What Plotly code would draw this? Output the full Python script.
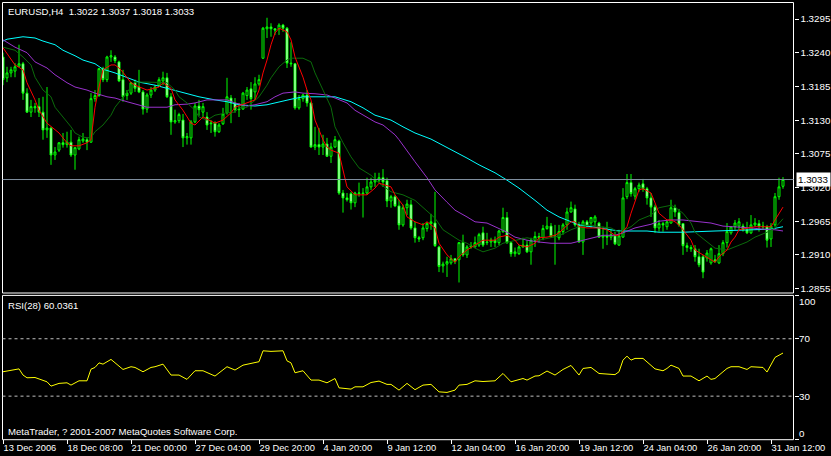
import plotly.graph_objects as go

# ---------------- data ----------------
symbol_header = "EURUSD,H4  1.3022 1.3037 1.3018 1.3033"
rsi_header = "RSI(28) 60.0361"
footer = "MetaTrader, ? 2001-2007 MetaQuotes Software Corp."
last_price = 1.3033

opens = [1.3233,1.3199,1.3207,1.3210,1.3218,1.3222,1.3174,1.3143,1.3152,1.3152,
         1.3143,1.3114,1.3117,1.3073,1.3081,1.3093,1.3090,1.3094,1.3073,1.3083,
         1.3096,1.3098,1.3094,1.3165,1.3170,1.3214,1.3196,1.3233,1.3233,1.3225,
         1.3196,1.3170,1.3174,1.3191,1.3184,1.3176,1.3148,1.3171,1.3179,1.3186,
         1.3194,1.3199,1.3168,1.3127,1.3129,1.3130,1.3101,1.3101,1.3127,1.3153,
         1.3143,1.3135,1.3124,1.3125,1.3111,1.3124,1.3142,1.3166,1.3158,1.3147,
         1.3148,1.3170,1.3181,1.3176,1.3189,1.3231,1.3279,1.3282,1.3279,1.3279,
         1.3285,1.3280,1.3223,1.3222,1.3150,1.3165,1.3171,1.3158,1.3086,1.3090,
         1.3086,1.3091,1.3071,1.3086,1.3096,1.3011,1.3003,1.3010,1.2995,1.3010,
         1.3011,1.3011,1.3021,1.3029,1.3032,1.3036,1.3031,1.2998,1.3005,1.2990,
         1.2959,1.2987,1.2992,1.2954,1.2938,1.2938,1.2953,1.2961,1.2962,1.2923,
         1.2892,1.2895,1.2897,1.2904,1.2902,1.2930,1.2910,1.2923,1.2923,1.2926,
         1.2946,1.2930,1.2931,1.2934,1.2930,1.2948,1.2971,1.2930,1.2912,1.2912,
         1.2923,1.2926,1.2915,1.2934,1.2940,1.2938,1.2953,1.2957,1.2940,1.2938,
         1.2948,1.2959,1.2980,1.2985,1.2959,1.2931,1.2964,1.2962,1.2964,1.2962,
         1.2939,1.2941,1.2939,1.2941,1.2926,1.2939,1.3005,1.3028,1.3006,1.3018,
         1.3026,1.3018,1.3003,1.2988,1.2954,1.2961,1.2956,1.2962,1.2987,1.2979,
         1.2961,1.2925,1.2922,1.2920,1.2907,1.2907,1.2905,1.2897,1.2902,1.2897,
         1.2912,1.2930,1.2946,1.2956,1.2957,1.2957,1.2951,1.2946,1.2959,1.2961,
         1.2957,1.2956,1.2936,1.2959,1.3005,1.3022]
highs = [1.3240,1.3217,1.3217,1.3223,1.3253,1.3225,1.3182,1.3163,1.3158,1.3166,
         1.3168,1.3184,1.3119,1.3086,1.3094,1.3109,1.3111,1.3114,1.3086,1.3103,
         1.3109,1.3101,1.3174,1.3179,1.3215,1.3217,1.3235,1.3244,1.3236,1.3227,
         1.3212,1.3179,1.3192,1.3196,1.3212,1.3179,1.3174,1.3184,1.3187,1.3200,
         1.3209,1.3207,1.3174,1.3147,1.3142,1.3140,1.3109,1.3130,1.3158,1.3163,
         1.3158,1.3143,1.3130,1.3128,1.3125,1.3150,1.3199,1.3171,1.3166,1.3158,
         1.3176,1.3184,1.3192,1.3200,1.3204,1.3282,1.3297,1.3288,1.3279,1.3288,
         1.3287,1.3282,1.3257,1.3223,1.3171,1.3173,1.3179,1.3160,1.3119,1.3117,
         1.3106,1.3101,1.3093,1.3104,1.3098,1.3016,1.3011,1.3013,1.3013,1.3028,
         1.3019,1.3036,1.3036,1.3044,1.3044,1.3050,1.3036,1.3008,1.3008,1.3000,
         1.2992,1.3000,1.3000,1.2964,1.2941,1.2962,1.2964,1.2977,1.3013,1.2925,
         1.2899,1.2907,1.2910,1.2905,1.2931,1.2943,1.2926,1.2931,1.2940,1.2946,
         1.2956,1.2946,1.2938,1.2940,1.2951,1.2987,1.2980,1.2931,1.2922,1.2926,
         1.2938,1.2934,1.2938,1.2948,1.2946,1.2959,1.2972,1.2962,1.2959,1.2959,
         1.2962,1.2987,1.2997,1.2992,1.2964,1.2967,1.2967,1.2972,1.2975,1.2964,
         1.2956,1.2964,1.2951,1.2948,1.2951,1.3019,1.3042,1.3042,1.3021,1.3028,
         1.3034,1.3021,1.3011,1.2992,1.2967,1.2964,1.2966,1.3000,1.2992,1.2985,
         1.2962,1.2930,1.2926,1.2926,1.2920,1.2910,1.2918,1.2922,1.2910,1.2926,
         1.2934,1.2962,1.2957,1.2967,1.2970,1.2961,1.2964,1.2975,1.2970,1.2967,
         1.2964,1.2959,1.2962,1.3011,1.3036,1.3037]
lows = [1.3187,1.3192,1.3200,1.3200,1.3217,1.3163,1.3142,1.3135,1.3142,1.3135,
        1.3098,1.3101,1.3057,1.3065,1.3078,1.3085,1.3085,1.3070,1.3049,1.3081,
        1.3093,1.3081,1.3093,1.3160,1.3168,1.3192,1.3192,1.3225,1.3223,1.3192,
        1.3160,1.3163,1.3171,1.3176,1.3174,1.3139,1.3142,1.3166,1.3176,1.3184,
        1.3187,1.3166,1.3106,1.3124,1.3125,1.3086,1.3090,1.3090,1.3125,1.3137,
        1.3135,1.3114,1.3109,1.3103,1.3109,1.3122,1.3139,1.3125,1.3142,1.3135,
        1.3147,1.3163,1.3147,1.3163,1.3186,1.3230,1.3264,1.3266,1.3269,1.3269,
        1.3274,1.3215,1.3217,1.3147,1.3147,1.3160,1.3152,1.3085,1.3081,1.3073,
        1.3073,1.3070,1.3060,1.3085,1.3008,1.2979,1.2997,1.2984,1.2988,1.3005,
        1.2971,1.3008,1.3016,1.3021,1.3028,1.3021,1.2988,1.2987,1.2988,1.2951,
        1.2956,1.2975,1.2951,1.2930,1.2931,1.2934,1.2948,1.2951,1.2923,1.2882,
        1.2881,1.2874,1.2894,1.2895,1.2865,1.2907,1.2905,1.2920,1.2922,1.2923,
        1.2923,1.2926,1.2923,1.2923,1.2926,1.2946,1.2928,1.2907,1.2907,1.2910,
        1.2922,1.2913,1.2894,1.2923,1.2930,1.2934,1.2951,1.2938,1.2894,1.2934,
        1.2943,1.2951,1.2979,1.2956,1.2930,1.2910,1.2956,1.2954,1.2956,1.2938,
        1.2920,1.2926,1.2934,1.2926,1.2925,1.2938,1.3001,1.3005,1.3000,1.3013,
        1.3013,1.2992,1.2972,1.2946,1.2948,1.2948,1.2951,1.2961,1.2972,1.2956,
        1.2910,1.2915,1.2915,1.2899,1.2890,1.2872,1.2899,1.2894,1.2897,1.2895,
        1.2908,1.2922,1.2943,1.2951,1.2951,1.2948,1.2944,1.2944,1.2956,1.2948,
        1.2951,1.2922,1.2923,1.2956,1.3000,1.3018]
closes = [1.3196,1.3207,1.3212,1.3217,1.3222,1.3174,1.3143,1.3152,1.3150,1.3143,
          1.3114,1.3117,1.3073,1.3078,1.3093,1.3090,1.3094,1.3073,1.3085,1.3098,
          1.3099,1.3094,1.3165,1.3170,1.3214,1.3196,1.3233,1.3235,1.3227,1.3194,
          1.3168,1.3174,1.3191,1.3182,1.3176,1.3148,1.3171,1.3179,1.3184,1.3196,
          1.3199,1.3168,1.3127,1.3129,1.3139,1.3101,1.3103,1.3127,1.3153,1.3147,
          1.3152,1.3122,1.3125,1.3111,1.3122,1.3140,1.3168,1.3158,1.3147,1.3148,
          1.3174,1.3179,1.3165,1.3189,1.3196,1.3280,1.3282,1.3279,1.3277,1.3285,
          1.3280,1.3223,1.3222,1.3150,1.3165,1.3171,1.3158,1.3086,1.3090,1.3086,
          1.3091,1.3071,1.3086,1.3098,1.3011,1.3003,1.3000,1.2995,1.3011,1.3011,
          1.3010,1.3021,1.3029,1.3032,1.3036,1.3029,1.2998,1.3005,1.2990,1.2959,
          1.2987,1.2993,1.2954,1.2938,1.2936,1.2954,1.2961,1.2964,1.2925,1.2891,
          1.2895,1.2899,1.2904,1.2899,1.2930,1.2910,1.2923,1.2925,1.2930,1.2943,
          1.2926,1.2931,1.2934,1.2930,1.2949,1.2971,1.2930,1.2912,1.2915,1.2923,
          1.2926,1.2915,1.2934,1.2940,1.2938,1.2953,1.2957,1.2940,1.2941,1.2948,
          1.2959,1.2980,1.2987,1.2959,1.2931,1.2964,1.2957,1.2971,1.2972,1.2939,
          1.2941,1.2939,1.2943,1.2928,1.2941,1.3003,1.3028,1.3010,1.3018,1.3024,
          1.3018,1.3003,1.2988,1.2954,1.2961,1.2959,1.2964,1.2987,1.2980,1.2959,
          1.2925,1.2922,1.2920,1.2907,1.2894,1.2882,1.2913,1.2920,1.2899,1.2912,
          1.2930,1.2948,1.2956,1.2962,1.2964,1.2951,1.2946,1.2959,1.2962,1.2957,
          1.2956,1.2934,1.2957,1.3005,1.3021,1.3033]
bars = list(range(len(closes)))

# moving averages (bar index, price)
red_bars = [0,3,5,6,8,9,11,13,14,16,17,19,21,22,23,24,25,27,28,29,30,32,33,36,39,40,42,43,45,47,48,50,53,55,57,58,63,64,65,66,67,68,69,71,72,73,75,76,77,78,80,81,82,84,85,86,88,91,93,94,97,98,100,101,103,105,106,108,109,111,113,114,116,118,120,123,124,126,128,129,131,133,134,136,138,139,142,143,144,146,149,151,153,154,156,157,158,159,160,162,163,164,166,167,168,169,170,172,173,175,177,178,179,181,182,183,184,186,188,191,192,193,194,195]
red_vals = [1.3248,1.3220,1.3212,1.3191,1.3163,1.3146,1.3125,1.3114,1.3109,1.3093,1.3088,1.3088,1.3093,1.3098,1.3151,1.3184,1.3212,1.3220,1.3220,1.3215,1.3208,1.3191,1.3187,1.3179,1.3184,1.3191,1.3182,1.3163,1.3146,1.3125,1.3122,1.3135,1.3125,1.3130,1.3142,1.3151,1.3163,1.3179,1.3207,1.3228,1.3253,1.3272,1.3280,1.3274,1.3261,1.3233,1.3200,1.3179,1.3163,1.3130,1.3098,1.3086,1.3081,1.3076,1.3049,1.3021,1.3008,1.3008,1.3019,1.3027,1.3021,1.3008,1.2991,1.2972,1.2964,1.2959,1.2964,1.2954,1.2929,1.2910,1.2898,1.2907,1.2918,1.2926,1.2934,1.2934,1.2939,1.2942,1.2934,1.2926,1.2923,1.2929,1.2938,1.2939,1.2942,1.2946,1.2964,1.2964,1.2956,1.2954,1.2954,1.2951,1.2942,1.2942,1.2956,1.2978,1.2999,1.3016,1.3018,1.3011,1.2995,1.2978,1.2967,1.2967,1.2964,1.2959,1.2951,1.2934,1.2918,1.2910,1.2902,1.2898,1.2907,1.2918,1.2931,1.2939,1.2951,1.2954,1.2956,1.2956,1.2956,1.2967,1.2978,1.2988]

green_bars = [0,3,5,7,8,10,12,13,15,17,18,20,22,23,25,27,28,30,32,33,36,38,41,43,44,46,48,49,51,53,56,58,59,61,63,64,66,67,69,71,72,75,77,78,80,82,83,85,87,89,92,94,97,100,103,105,108,110,113,114,116,118,120,123,125,128,131,134,137,139,142,144,147,149,152,154,157,159,162,164,167,168,170,172,173,176,178,181,183,186,188,191,193,194,195]
green_vals = [1.3249,1.3244,1.3233,1.3220,1.3200,1.3179,1.3168,1.3151,1.3135,1.3119,1.3109,1.3102,1.3101,1.3111,1.3122,1.3138,1.3151,1.3168,1.3184,1.3192,1.3192,1.3192,1.3191,1.3179,1.3168,1.3158,1.3146,1.3135,1.3130,1.3138,1.3142,1.3143,1.3150,1.3151,1.3163,1.3168,1.3187,1.3199,1.3217,1.3228,1.3231,1.3231,1.3225,1.3207,1.3179,1.3151,1.3119,1.3093,1.3070,1.3052,1.3040,1.3027,1.3013,1.3008,1.2999,1.2987,1.2970,1.2951,1.2939,1.2934,1.2929,1.2921,1.2915,1.2921,1.2929,1.2934,1.2938,1.2934,1.2938,1.2941,1.2951,1.2956,1.2959,1.2956,1.2954,1.2947,1.2956,1.2967,1.2975,1.2987,1.2991,1.2988,1.2978,1.2962,1.2947,1.2931,1.2921,1.2918,1.2923,1.2931,1.2939,1.2947,1.2954,1.2962,1.2969]

purple_bars = [0,3,6,8,11,13,16,18,21,23,26,28,31,33,36,41,43,46,48,51,56,58,61,63,66,68,70,73,75,78,81,83,86,88,91,93,95,98,99,101,103,106,108,111,113,116,118,121,123,126,128,131,134,137,142,145,148,150,153,155,158,162,164,167,170,173,177,180,183,187,190,193,195]
purple_vals = [1.3261,1.3249,1.3240,1.3225,1.3215,1.3204,1.3191,1.3184,1.3179,1.3174,1.3168,1.3166,1.3160,1.3156,1.3151,1.3151,1.3155,1.3156,1.3158,1.3163,1.3163,1.3158,1.3153,1.3155,1.3160,1.3168,1.3174,1.3176,1.3174,1.3173,1.3171,1.3166,1.3158,1.3146,1.3135,1.3127,1.3122,1.3106,1.3098,1.3081,1.3062,1.3036,1.3016,1.2996,1.2983,1.2972,1.2964,1.2962,1.2956,1.2947,1.2939,1.2934,1.2931,1.2929,1.2929,1.2934,1.2939,1.2942,1.2942,1.2946,1.2954,1.2960,1.2965,1.2967,1.2967,1.2965,1.2962,1.2957,1.2956,1.2954,1.2952,1.2951,1.2949]

cyan_bars = [0,1,3,5,8,10,13,15,18,20,23,25,28,31,34,38,41,43,46,49,53,56,59,63,66,69,72,75,83,87,90,93,97,100,103,107,110,113,116,119,123,126,129,133,136,139,142,144,147,149,152,154,158,161,164,170,178,187,192,195]
cyan_vals = [1.3259,1.3262,1.3264,1.3266,1.3264,1.3259,1.3253,1.3244,1.3235,1.3228,1.3222,1.3213,1.3207,1.3199,1.3192,1.3187,1.3182,1.3179,1.3174,1.3168,1.3163,1.3160,1.3155,1.3153,1.3155,1.3160,1.3164,1.3168,1.3168,1.3160,1.3150,1.3138,1.3130,1.3119,1.3109,1.3099,1.3089,1.3078,1.3068,1.3057,1.3044,1.3032,1.3019,1.2999,1.2983,1.2972,1.2964,1.2959,1.2956,1.2954,1.2951,1.2949,1.2949,1.2949,1.2947,1.2947,1.2949,1.2951,1.2952,1.2956]

rsi_bars = [0,2,4,5,6,8,10,11,12,14,16,17,19,21,22,23,24,25,27,28,30,32,33,35,37,38,40,42,44,46,48,50,52,53,56,58,60,64,65,67,70,71,72,73,75,77,79,81,83,84,87,88,90,92,94,96,97,99,101,103,105,107,109,111,113,114,116,118,120,123,125,127,130,131,133,134,136,138,140,142,144,145,147,149,153,154,155,156,157,158,160,161,163,165,166,167,169,170,172,174,176,177,178,181,182,184,186,187,189,190,191,192,193,195]
rsi_vals = [47,48,49,44.7,42.8,43,41.2,40,37,38.9,39.3,37.7,40.7,40.7,48.8,50,53.2,52.3,55.6,53.2,48.6,50.5,50,47,50,50.5,52.3,44.7,44.7,41.7,47.7,47.7,45.1,44,50.5,48.2,51.6,54,61.6,61.2,61.6,54.6,53.2,46.3,47.7,41.2,41.2,39.3,42.3,35.8,34.9,36.5,36.5,39.5,40.5,38.2,38.2,34.2,38.9,34.5,37.7,38.2,33,32.6,34.2,37.7,38.2,40.7,40.2,40.7,45.8,40,42.3,41.2,44,44.2,47.5,44.7,48.6,51.4,44.7,49.3,50,45.8,45,47,55.1,57.9,55.1,56.3,56.3,54,49,47.7,49.3,51.6,49.3,44,44,40.7,44,41.7,42.3,49.3,50.5,50.5,48.6,50.5,50.5,50,46.8,51.6,57,60.04]

time_tick_bars = [0,16,32,48,64,80,96,112,128,144,160,176,192]
time_tick_text = ["13 Dec 2006","18 Dec 08:00","21 Dec 00:00","27 Dec 04:00","29 Dec 20:00",
                  "4 Jan 20:00","9 Jan 12:00","12 Jan 04:00","16 Jan 20:00","19 Jan 12:00",
                  "24 Jan 04:00","26 Jan 20:00","31 Jan 12:00"]
price_ticks = [1.2855,1.2910,1.2965,1.3020,1.3075,1.3130,1.3185,1.3240,1.3295]
rsi_levels = [30, 70]
rsi_ticks = [0, 30, 70, 100]

# ---------------- layout geometry ----------------
W, H = 831, 456
px = lambda v: v / W
py = lambda v: 1 - v / H
XL, XR = 2.5, 793.5
MAIN_TOP, MAIN_BOT = 2.5, 293
RSI_TOP, RSI_BOT = 295.7, 439.2
FONT = "Liberation Sans, Arial, sans-serif"
GREEN = "#00ff00"

fig = go.Figure()
fig.add_trace(go.Candlestick(
    x=bars, open=opens, high=highs, low=lows, close=closes,
    increasing=dict(line=dict(color=GREEN, width=1), fillcolor="black"),
    decreasing=dict(line=dict(color=GREEN, width=1), fillcolor="white"),
    whiskerwidth=0, hoverinfo="skip", showlegend=False, xaxis="x", yaxis="y"))

for bx, vals, col in [(cyan_bars, cyan_vals, "#00ffff"),
                      (purple_bars, purple_vals, "#9932cc"),
                      (green_bars, green_vals, "#0b6b0b"),
                      (red_bars, red_vals, "#ff0000")]:
    fig.add_trace(go.Scatter(x=bx, y=vals, mode="lines", line=dict(color=col, width=1),
                             hoverinfo="skip", showlegend=False, xaxis="x", yaxis="y"))

fig.add_trace(go.Scatter(x=rsi_bars, y=rsi_vals, mode="lines",
                         line=dict(color="#ffff00", width=1),
                         hoverinfo="skip", showlegend=False, xaxis="x2", yaxis="y2"))

xr = [(XL - 3) / 4, (XR - 3) / 4]
fig.update_layout(
    width=W, height=H, autosize=False,
    margin=dict(l=0, r=0, t=0, b=0, autoexpand=False),
    paper_bgcolor="black", plot_bgcolor="black",
    font=dict(family=FONT, color="white", size=10),
    hovermode=False,
    xaxis=dict(domain=[px(XL), px(XR)], range=xr, anchor="y", showticklabels=False,
               showgrid=False, zeroline=False, showline=False, ticks="",
               automargin=False, rangeslider=dict(visible=False)),
    xaxis2=dict(domain=[px(XL), px(XR)], range=xr, anchor="y2", matches="x",
                showgrid=False, zeroline=False, showline=False, automargin=False,
                tickmode="array", tickvals=time_tick_bars, ticktext=time_tick_text,
                tickangle=0,
                ticks="outside", ticklen=4, tickcolor="white", tickwidth=1,
                ticklabelposition="outside right",
                tickfont=dict(family=FONT, size=9.3, color="white")),
    yaxis=dict(domain=[py(MAIN_BOT), py(MAIN_TOP)],
               range=[1.3326 - 0.0001632 * MAIN_BOT, 1.3326 - 0.0001632 * MAIN_TOP],
               anchor="x", side="right", showgrid=False, zeroline=False, showline=False,
               automargin=False,
               tickmode="array", tickvals=price_ticks, tickformat=".4f",
               ticks="outside", ticklen=4, tickcolor="white",
               tickfont=dict(family=FONT, size=9.8, color="white")),
    yaxis2=dict(domain=[py(RSI_BOT), py(RSI_TOP)], range=[0, 100],
                anchor="x2", side="right", showgrid=False, zeroline=False, showline=False,
                automargin=False,
                tickmode="array", tickvals=rsi_ticks, showticklabels=False,
                ticks="outside", ticklen=4, tickcolor="white"),
)

shapes = [
    dict(type="rect", xref="paper", yref="paper", x0=px(XL), x1=px(XR),
         y0=py(MAIN_BOT), y1=py(MAIN_TOP), line=dict(color="white", width=1)),
    dict(type="rect", xref="paper", yref="paper", x0=px(XL), x1=px(XR),
         y0=py(RSI_BOT + 0.5), y1=py(RSI_TOP - 0.3), line=dict(color="white", width=1)),
    dict(type="line", xref="x domain", yref="y", x0=0, x1=1, y0=last_price, y1=last_price,
         line=dict(color="#8090a0", width=1)),
]
for lv in rsi_levels:
    shapes.append(dict(type="line", xref="x2 domain", yref="y2", x0=0, x1=1, y0=lv, y1=lv,
                       line=dict(color="#c0c0c0", width=1, dash="3px,3px")))
fig.update_layout(shapes=shapes)

ann = [
    dict(text=symbol_header, xref="paper", yref="paper", x=px(6), y=py(11),
         xanchor="left", yanchor="middle", showarrow=False,
         font=dict(family=FONT, size=9.6, color="white")),
    dict(text=rsi_header, xref="paper", yref="paper", x=px(6), y=py(305.5),
         xanchor="left", yanchor="middle", showarrow=False,
         font=dict(family=FONT, size=9.6, color="white")),
    dict(text=footer, xref="paper", yref="paper", x=px(6), y=py(431),
         xanchor="left", yanchor="middle", showarrow=False,
         font=dict(family=FONT, size=9.6, color="white")),
    dict(text=f"{last_price:.4f}", xref="paper", yref="y", x=px(795.5), y=last_price,
         xanchor="left", yanchor="middle", showarrow=False, bgcolor="white",
         borderpad=1, font=dict(family=FONT, size=9.8, color="black")),
]
for v, shift in [(100, -6), (70, 0), (30, 0), (0, 6)]:
    ann.append(dict(text=str(v), xref="paper", yref="y2", x=px(797), y=v, yshift=shift,
                    xanchor="left", yanchor="middle", showarrow=False,
                    font=dict(family=FONT, size=9.8, color="white")))
fig.update_layout(annotations=ann)

fig.write_html("out.html", config={"displayModeBar": False, "staticPlot": True},
               post_script="document.body.style.margin='0px';document.body.style.padding='0px';document.body.style.background='black';")
